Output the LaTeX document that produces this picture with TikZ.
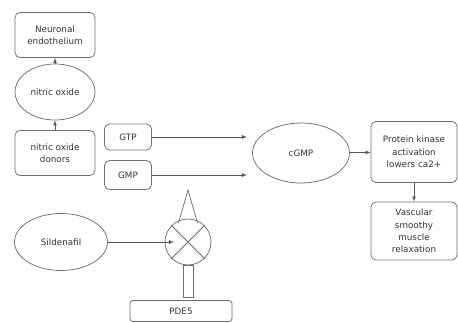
\documentclass[tikz,border=0pt]{standalone}
\usepackage{fontspec}
\setmainfont{DejaVu Sans}
\definecolor{edgegray}{RGB}{110,110,110}
\definecolor{textgray}{RGB}{60,48,48}
\tikzset{
  box/.style={draw=edgegray, line width=0.75pt, rounded corners=5pt, align=center,
    text=textgray, font=\fontsize{8.8}{12.3}\selectfont, inner sep=1pt},
  oval/.style={draw=edgegray, line width=0.75pt, ellipse, align=center,
    text=textgray, font=\fontsize{8.8}{12.3}\selectfont, inner sep=1pt},
  link/.style={draw=edgegray!80!black, line width=0.75pt, -latex}
}
\usetikzlibrary{shapes.geometric}
\begin{document}
\begin{tikzpicture}[x=1pt,y=-1pt]
      \useasboundingbox (0,0) rectangle (458,323);

      \node[box, minimum width=80pt, minimum height=45pt] (neuro) at (55,35) {Neuronal\\endothelium};
      \node[oval, minimum width=80pt, minimum height=56pt] (nitric) at (55,92) {nitric oxide};
      \node[box, minimum width=80pt, minimum height=45pt] (donors) at (55,153) {nitric oxide\\donors};
      \node[box, minimum width=47pt, minimum height=26pt] (gtp) at (128,137) {GTP};
      \node[box, minimum width=47pt, minimum height=29pt] (gmp) at (128,175) {GMP};
      \node[oval, minimum width=97pt, minimum height=60pt] (cgmp) at (301,153) {cGMP};
      \node[box, minimum width=86pt, minimum height=61pt] (kinase) at (414,152) {Protein kinase\\activation\\lowers ca2+};
      \node[box, minimum width=86pt, minimum height=58pt] (relax) at (414,231) {Vascular\\smoothy\\muscle\\relaxation};
      \node[oval, minimum width=93pt, minimum height=57pt] (silden) at (61,242) {Sildenafil};
      \node[draw=edgegray, line width=0.75pt, circle, minimum size=46pt, inner sep=0pt] (valve) at (188,242) {};
      \node[box, rounded corners=3pt, minimum width=102pt, minimum height=21pt] (pde) at (181,311) {PDE5};

      \coordinate (gtpend) at (247,137);
      \coordinate (gmpend) at (247,175);
      \coordinate (sildend) at (174,242);

      \draw[edgegray, line width=0.75pt] (valve.north east) -- (valve.south west);
      \draw[edgegray, line width=0.75pt] (valve.north west) -- (valve.south east);
      \draw[edgegray, line width=0.75pt] (178.5,223) -- (188,190) -- (197.5,223);
      \draw[edgegray, line width=0.75pt] (183,265) rectangle (193,297);

      \draw[link] (nitric) -- (neuro);
      \draw[link] (donors) -- (nitric);
      \draw[link] (gtp) -- (gtpend);
      \draw[link] (gmp) -- (gmpend);
      \draw[link] (cgmp) -- (kinase);
      \draw[link] (kinase) -- (relax);
      \draw[link] (silden) -- (sildend);
    \end{tikzpicture}
\end{document}
